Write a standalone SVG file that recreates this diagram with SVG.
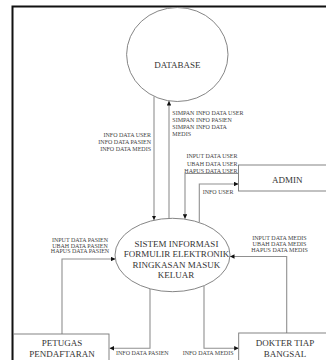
<svg xmlns="http://www.w3.org/2000/svg" width="326" height="360" viewBox="0 0 326 360">
<style>
.bg{fill:#ffffff}
.frame{fill:none;stroke:#111;stroke-width:2}
.shape{fill:#ffffff;stroke:#777;stroke-width:0.9}
.conn{fill:none;stroke:#909090;stroke-width:1.1}
.big{font-family:"Liberation Serif","Times New Roman",serif;font-size:9px;fill:#333;text-anchor:middle}
.lbl{font-family:"Liberation Serif","Times New Roman",serif;font-size:6px;fill:#444}
.mid{text-anchor:middle}
.end{text-anchor:end}
</style>
<defs>
<marker id="arr" viewBox="0 0 10 10" refX="10" refY="5" markerWidth="4.5" markerHeight="4.5" markerUnits="userSpaceOnUse" orient="auto">
<path d="M0,0 L10,5 L0,10 z" fill="#111"/>
</marker>
</defs>
<rect class="bg" x="0" y="0" width="326" height="360"/>
<path class="frame" d="M12.5,361 V6.5 H327"/>

<g id="connectors">
<path class="conn" d="M154,96.5 V220" marker-end="url(#arr)"/>
<path class="conn" d="M169,218.5 V101" marker-end="url(#arr)"/>
<path class="conn" d="M238.5,173.5 H185 V218.8" marker-end="url(#arr)"/>
<path class="conn" d="M199.3,222 V184 H238.5" marker-end="url(#arr)"/>
<path class="conn" d="M62,334 V259 H115.3" marker-end="url(#arr)"/>
<path class="conn" d="M150,289 V348.3 H109.5" marker-end="url(#arr)"/>
<path class="conn" d="M204,286 V348.3 H238.7" marker-end="url(#arr)"/>
<path class="conn" d="M286.7,333 V256.5 H230" marker-end="url(#arr)"/>
<text class="lbl end" x="151" y="136.5">INFO DATA USER</text>
<text class="lbl end" x="151" y="143.8">INFO DATA PASIEN</text>
<text class="lbl end" x="151" y="151">INFO DATA MEDIS</text>
<text class="lbl" x="172.3" y="114.5">SIMPAN INFO DATA USER</text>
<text class="lbl" x="172.3" y="121.8">SIMPAN INFO PASIEN</text>
<text class="lbl" x="172.3" y="129">SIMPAN INFO DATA</text>
<text class="lbl" x="172.3" y="136.2">MEDIS</text>
<text class="lbl end" x="237.5" y="158.2">INPUT DATA USER</text>
<text class="lbl end" x="237.5" y="165.7">UBAH DATA USER</text>
<text class="lbl end" x="237.5" y="173">HAPUS DATA USER</text>
<text class="lbl end" x="233.5" y="193.8">INFO USER</text>
<text class="lbl mid" x="80" y="242.3">INPUT DATA PASIEN</text>
<text class="lbl mid" x="80" y="247.8">UBAH DATA PASIEN</text>
<text class="lbl mid" x="80" y="253.3">HAPUS DATA PASIEN</text>
<text class="lbl mid" x="279.5" y="239.5">INPUT DATA MEDIS</text>
<text class="lbl mid" x="279.5" y="245.6">UBAH DATA MEDIS</text>
<text class="lbl mid" x="279.5" y="252">HAPUS DATA MEDIS</text>
<text class="lbl" x="116" y="354.5">INFO DATA PASIEN</text>
<text class="lbl end" x="233.5" y="354.5">INFO DATA MEDIS</text>
</g>

<g id="database">
<ellipse class="shape" cx="177.3" cy="54.5" rx="50.7" ry="47"/>
<text class="big" x="177.3" y="68">DATABASE</text>
</g>

<g id="sistem">
<ellipse class="shape" cx="172.5" cy="255" rx="57.5" ry="36.7"/>
<text class="big" x="176.5" y="246.5">SISTEM INFORMASI</text>
<text class="big" x="176.5" y="257">FORMULIR ELEKTRONIK</text>
<text class="big" x="176.5" y="267.5">RINGKASAN MASUK</text>
<text class="big" x="176" y="277.7">KELUAR</text>
</g>

<g id="admin">
<rect class="shape" x="238.5" y="165" width="95" height="26"/>
<text class="big" x="287.2" y="183">ADMIN</text>
</g>

<g id="petugas">
<rect class="shape" x="13.5" y="334" width="95.5" height="40"/>
<text class="big" x="62" y="345.8">PETUGAS</text>
<text class="big" x="62" y="356.5">PENDAFTARAN</text>
</g>

<g id="dokter">
<rect class="shape" x="238.7" y="333" width="95" height="40"/>
<text class="big" x="285" y="345.5">DOKTER TIAP</text>
<text class="big" x="285" y="356.5">BANGSAL</text>
</g>
</svg>
